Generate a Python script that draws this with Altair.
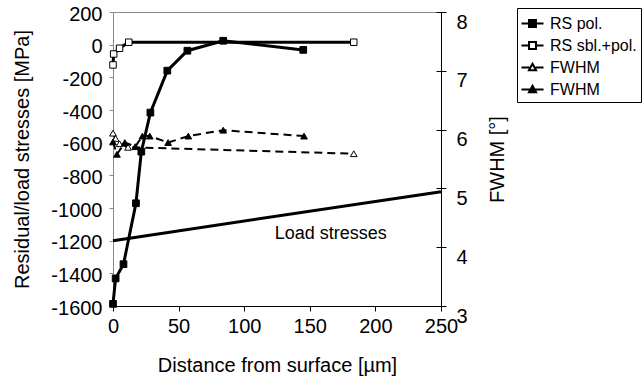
import altair as alt
import pandas as pd

# ---------------- data ----------------
# RS pol. (filled squares, left axis, MPa)
rs_pol_x = [0, 2, 8, 17.5, 21.6, 28.5, 41.4, 56.7, 84, 145]
rs_pol_y = [-1587, -1431, -1344, -971, -655, -416, -159, -37, 24, -32]

# RS sbl.+pol. (open squares, left axis, MPa)
rs_sbl_x = [0, 0.5, 5, 12, 183.5]
rs_sbl_y = [-124, -57, -22, 15, 15]

# FWHM (open triangles, right axis, degrees)
fw_open_x = [0, 2, 5, 11.5, 183.5]
fw_open_y = [5.94, 5.85, 5.76, 5.70, 5.59]

# FWHM (filled triangles, right axis, degrees)
fw_fill_x = [0, 3, 9, 17, 22.4, 28, 42, 57.4, 84, 145.6]
fw_fill_y = [5.79, 5.58, 5.78, 5.71, 5.89, 5.89, 5.78, 5.89, 5.99, 5.89]

# Load stresses (straight line, left axis, MPa)
load_x = [0, 250]
load_y = [-1200, -900]
load_label = ["Load stresses"]
load_label_x = [166]
load_label_y = [-1190]

# axis ticks
x_ticks = [0, 50, 100, 150, 200, 250]
left_ticks = [200, 0, -200, -400, -600, -800, -1000, -1200, -1400, -1600]
right_ticks = [3, 4, 5, 6, 7, 8]

series_keys = ["RS pol.", "RS sbl.+pol.", "FWHM (open)", "FWHM (filled)"]

# ---------------- tables ----------------
df_rs_pol = pd.DataFrame({"x": rs_pol_x, "y": rs_pol_y})
df_rs_sbl = pd.DataFrame({"x": rs_sbl_x, "y": rs_sbl_y})
df_fw_open = pd.DataFrame({"x": fw_open_x, "y": fw_open_y})
df_fw_fill = pd.DataFrame({"x": fw_fill_x, "y": fw_fill_y})
df_load = pd.DataFrame({"x": load_x, "y": load_y})
df_label = pd.DataFrame({"x": load_label_x, "y": load_label_y, "t": load_label})
df_legend = pd.DataFrame({"x": [0] * 4, "y": [0] * 4, "series": series_keys})

FONT = "Liberation Sans"

X = alt.X(
    "x:Q",
    scale=alt.Scale(domain=[0, 250], nice=False, zero=False),
    axis=alt.Axis(
        values=x_ticks, tickSize=5, labelFontSize=20, labelPadding=5,
        labelFlush=False, domainColor="black", tickColor="black",
        labelColor="black", grid=False,
        title="Distance from surface [µm]", titleFontSize=20,
        titleFontWeight="normal", titleColor="black",
        titleBaseline="alphabetic", titleY=65, titleX=164,
    ),
)

LSCALE = alt.Scale(domain=[-1600, 200], nice=False, zero=False)
RSCALE = alt.Scale(domain=[3, 8], nice=False, zero=False)

left_axis = alt.Axis(
    orient="left", values=left_ticks, tickSize=4, labelFontSize=20,
    labelPadding=7, labelColor="black", labelExpr="'' + datum.value",
    labelOffset=2, domainColor="#888", tickColor="#888", grid=False,
    title="Residual/load stresses [MPa]", titleFontSize=20,
    titleFontWeight="normal", titleColor="black", titleAngle=270,
    titleX=-91, titleY=147, titleBaseline="middle", titleAlign="center",
)
right_axis = alt.Axis(
    orient="right", values=right_ticks, tickSize=5, labelFontSize=20,
    labelPadding=10, labelColor="black", labelBaseline="top", labelOffset=0,
    domainColor="black", tickColor="black", grid=False,
    title="FWHM [°]", titleFontSize=20, titleFontWeight="normal",
    titleColor="black", titleAngle=270, titleX=56, titleY=147,
    titleBaseline="middle", titleAlign="center",
)
right_inner_ticks = alt.Axis(
    orient="right", values=right_ticks, tickSize=5, offset=-5,
    labels=False, domain=False, title=None, tickColor="black", grid=False,
)


def YL(axis=None):
    return alt.Y("y:Q", scale=LSCALE, axis=axis)


def YR(axis=None):
    return alt.Y("y:Q", scale=RSCALE, axis=axis)


load_line = alt.Chart(df_load).mark_line(color="black", strokeWidth=3).encode(
    x=X, y=YL(left_axis))
load_text = alt.Chart(df_label).mark_text(
    font=FONT, fontSize=18, color="black", align="center",
    baseline="alphabetic").encode(x=X, y=YL(), text="t:N")

fo_line = alt.Chart(df_fw_open).mark_line(
    color="black", strokeWidth=2, strokeDash=[8, 5]).encode(
    x=X, y=YR(right_axis))
fo_pts = alt.Chart(df_fw_open).mark_point(
    shape="triangle-up", size=45, filled=True, fill="white", stroke="black",
    strokeWidth=1, opacity=1).encode(x=X, y=YR())

ff_line = alt.Chart(df_fw_fill).mark_line(
    color="black", strokeWidth=2, strokeDash=[8, 5]).encode(
    x=X, y=YR(right_inner_ticks))
ff_pts = alt.Chart(df_fw_fill).mark_point(
    shape="triangle-up", size=45, filled=True, fill="black", stroke="black",
    strokeWidth=1, opacity=1).encode(x=X, y=YR())

sbl_line = alt.Chart(df_rs_sbl).mark_line(color="black", strokeWidth=3).encode(
    x=X, y=YL())
sbl_pts = alt.Chart(df_rs_sbl).mark_point(
    shape="square", size=42, filled=True, fill="white", stroke="black",
    strokeWidth=1, opacity=1).encode(x=X, y=YL())

pol_line = alt.Chart(df_rs_pol).mark_line(color="black", strokeWidth=3).encode(
    x=X, y=YL())
pol_pts = alt.Chart(df_rs_pol).mark_point(
    shape="square", size=45, filled=True, fill="black", stroke="black",
    strokeWidth=1, opacity=1).encode(x=X, y=YL())

legend_paths = [
    "M-1.05,0H1.05M-0.33,-0.33H0.33V0.33H-0.33Z",
    "M-1.05,0H-0.33M0.33,0H1.05M-0.33,-0.33H0.33V0.33H-0.33Z",
    "M-1.05,0H-0.3M0.3,0H1.05M0,-0.36L0.34,0.26H-0.34Z",
    "M-1.05,0H1.05M0,-0.36L0.34,0.26H-0.34Z",
]
legend = alt.Legend(
    orient="none", legendX=404, legendY=-4, title=None, padding=4,
    strokeColor="black", fillColor="white", labelFontSize=16,
    labelFont=FONT, labelColor="black", symbolSize=441, labelOffset=6,
    rowPadding=2, symbolStrokeWidth=2, symbolStrokeColor="black",
    labelExpr="datum.label == 'RS pol.' || datum.label == 'RS sbl.+pol.' ? datum.label : 'FWHM'",
)
legend_layer = alt.Chart(df_legend).transform_filter("datum.x > 1000").mark_point(
    filled=True, strokeWidth=2, opacity=1, size=441).encode(
    x=X, y=YL(),
    shape=alt.Shape("series:N", scale=alt.Scale(domain=series_keys, range=legend_paths), legend=legend),
    fill=alt.Fill("series:N", scale=alt.Scale(domain=series_keys, range=["black", "white", "white", "black"]), legend=legend),
    stroke=alt.Stroke("series:N", scale=alt.Scale(domain=series_keys, range=["black", "black", "black", "black"]), legend=legend),
)

chart = alt.layer(
    load_line, load_text, fo_line, fo_pts, ff_line, ff_pts,
    sbl_line, sbl_pts, pol_line, pol_pts, legend_layer,
).resolve_scale(y="independent").properties(
    width=328, height=294,
    padding={"left": 113, "top": 12, "right": 202, "bottom": 73},
    autosize=alt.AutoSizeParams(type="none"),
).configure(font=FONT).configure_view(stroke="#888", strokeWidth=1)

chart.save("out.html", embed_options={"renderer": "svg", "actions": False})
